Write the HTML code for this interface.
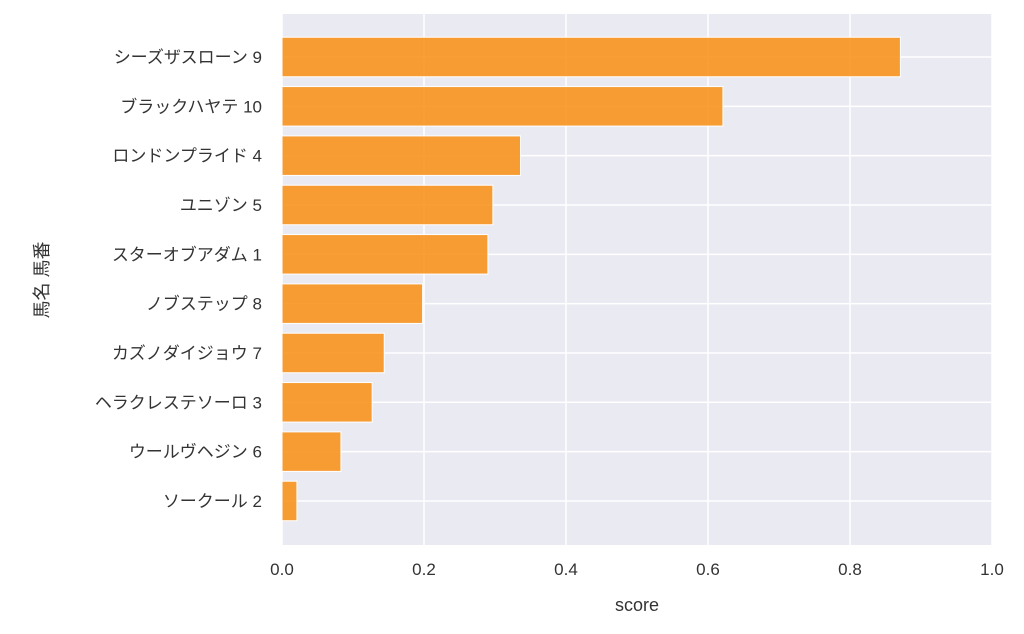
<!DOCTYPE html>
<html><head><meta charset="utf-8"><style>
body{margin:0;background:#fff;}
svg text{font-family:"Liberation Sans","Noto Sans CJK JP",sans-serif;fill:#333;}
</style></head><body>
<svg id="chart" width="1024" height="629" xmlns="http://www.w3.org/2000/svg">
<rect x="282" y="14" width="710" height="531" fill="#eaeaf2"/>
<g id="grid"></g><g id="bars"></g><g id="labels"></g>
<text x="637" y="611" font-size="18" text-anchor="middle">score</text>
<text transform="translate(48,280) rotate(-90)" font-size="18" text-anchor="middle">馬名 馬番</text>
</svg>
<script>
const categories=["シーズザスローン 9","ブラックハヤテ 10","ロンドンプライド 4","ユニゾン 5","スターオブアダム 1","ノブステップ 8","カズノダイジョウ 7","ヘラクレステソーロ 3","ウールヴヘジン 6","ソークール 2"];
const values=[0.871,0.621,0.336,0.297,0.290,0.198,0.144,0.127,0.083,0.021];
const xTicks=[0,0.2,0.4,0.6,0.8,1.0];
const xTickLabels=["0.0","0.2","0.4","0.6","0.8","1.0"];
const NS="http://www.w3.org/2000/svg";
const x=v=>282+v*710;
const step=49.33, y=i=>57+i*step, bh=39.5;
const grid=document.getElementById('grid'),bars=document.getElementById('bars'),labels=document.getElementById('labels');
function mk(tag,attrs,parent){const e=document.createElementNS(NS,tag);for(const k in attrs)e.setAttribute(k,attrs[k]);parent.appendChild(e);return e;}
xTicks.forEach((t,i)=>{
  const l=mk('line',{x1:x(t),x2:x(t),y1:14,y2:545,stroke:'#fff','stroke-width':1.5},grid);
  
  
  const tx=mk('text',{x:x(t),y:575,'font-size':17,'text-anchor':'middle'},labels);
  tx.textContent=xTickLabels[i];
  
  
});
categories.forEach((c,i)=>{
  const l=mk('line',{x1:282,x2:992,y1:y(i),y2:y(i),stroke:'#fff','stroke-width':1.5},grid);
  
  
  const r=mk('rect',{x:282,y:y(i)-bh/2,width:values[i]*710,height:bh,fill:'#f7931e','fill-opacity':0.9,stroke:'#fff','stroke-width':1},bars);
  
  
  const tx=mk('text',{x:262,y:y(i)+6,'font-size':17,'text-anchor':'end'},labels);
  tx.textContent=c;
  
  
});
</script>
</body></html>
